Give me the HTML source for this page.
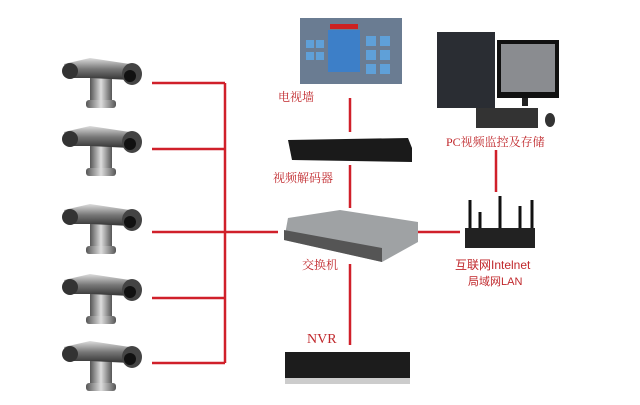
<!DOCTYPE html>
<html><head><meta charset="utf-8"><style>
html,body{margin:0;padding:0;background:#fff;}
body{width:640px;height:405px;position:relative;overflow:hidden;font-family:"Liberation Serif","Noto Serif CJK SC",serif;}
.t{position:absolute;color:#c0282c;font-size:12px;white-space:nowrap;line-height:14px;}
</style></head><body>
<svg width="640" height="405" style="position:absolute;left:0;top:0">
<defs>
<linearGradient id="m" x1="0" y1="0" x2="0" y2="1"><stop offset="0" stop-color="#ddd"/><stop offset=".5" stop-color="#777"/><stop offset="1" stop-color="#333"/></linearGradient>
<linearGradient id="s" x1="0" y1="0" x2="1" y2="0"><stop offset="0" stop-color="#555"/><stop offset=".5" stop-color="#ddd"/><stop offset="1" stop-color="#555"/></linearGradient>
<g id="cam">
<rect x="30" y="18" width="22" height="32" fill="url(#s)"/>
<rect x="26" y="44" width="30" height="8" rx="3" fill="url(#s)"/>
<path d="M4 8 L30 2 L70 8 L70 24 L30 22 L8 22Z" fill="url(#m)"/>
<ellipse cx="10" cy="15" rx="8" ry="8" fill="#333"/>
<ellipse cx="72" cy="18" rx="10" ry="11" fill="#444"/>
<ellipse cx="70" cy="20" rx="6" ry="6" fill="#111"/>
</g>
</defs>
<g stroke="#d0202a" stroke-width="2.5" fill="none">
<path d="M152 83H225M152 149H225M152 232H278M152 298H225M152 363H225M225 83V363"/>
<path d="M418 232H460M350 98V132M350 165V208M350 264V345M496 150V192"/>
</g>
<use href="#cam" x="60" y="56"/>
<use href="#cam" x="60" y="124"/>
<use href="#cam" x="60" y="202"/>
<use href="#cam" x="60" y="272"/>
<use href="#cam" x="60" y="339"/>
<!-- TV wall -->
<rect x="300" y="18" width="102" height="66" fill="#6a7c92"/>
<rect x="328" y="30" width="32" height="42" fill="#3d7fc8"/>
<rect x="330" y="24" width="28" height="5" fill="#c22"/>
<g fill="#5fa0d8"><rect x="306" y="40" width="8" height="8"/><rect x="316" y="40" width="8" height="8"/><rect x="306" y="52" width="8" height="8"/><rect x="316" y="52" width="8" height="8"/><rect x="366" y="36" width="10" height="10"/><rect x="380" y="36" width="10" height="10"/><rect x="366" y="50" width="10" height="10"/><rect x="380" y="50" width="10" height="10"/><rect x="366" y="64" width="10" height="10"/><rect x="380" y="64" width="10" height="10"/></g>
<!-- decoder -->
<path d="M288 140 L408 138 L412 148 L412 162 L292 160Z" fill="#1a1a1a"/>
<!-- switch -->
<path d="M288 218 L340 210 L418 222 L418 242 L382 262 L284 240Z" fill="#9fa2a4"/>
<path d="M284 230 L382 248 L382 262 L284 240Z" fill="#555"/>
<!-- router -->
<rect x="465" y="228" width="70" height="20" fill="#222"/>
<g stroke="#111" stroke-width="3"><path d="M470 228V200M480 228V212M500 228V196M520 228V206M532 228V200"/></g>
<!-- PC -->
<rect x="437" y="32" width="58" height="76" fill="#2a2d33"/>
<rect x="497" y="40" width="62" height="58" fill="#111"/>
<rect x="501" y="44" width="54" height="48" fill="#8a8c90"/>
<rect x="522" y="98" width="6" height="8" fill="#222"/>
<rect x="476" y="108" width="62" height="20" fill="#333"/>
<ellipse cx="550" cy="120" rx="5" ry="7" fill="#333"/>
<!-- NVR -->
<rect x="285" y="352" width="125" height="28" fill="#1c1c1c"/>
<rect x="285" y="378" width="125" height="6" fill="#ccc"/>
</svg>
<div class="t" style="left:278px;top:90px">电视墙</div>
<div class="t" style="left:273px;top:171px">视频解码器</div>
<div class="t" style="left:302px;top:258px">交换机</div>
<div class="t" style="left:307px;top:333px;font-size:14px">NVR</div>
<div class="t" style="left:446px;top:135px">PC视频监控及存储</div>
<div class="t" style="left:455px;top:258px;font-family:'Liberation Sans','Noto Sans CJK SC',sans-serif">互联网Intelnet</div>
<div class="t" style="left:468px;top:275px;font-family:'Liberation Sans','Noto Sans CJK SC',sans-serif;font-size:11px">局域网LAN</div>
</body></html>
